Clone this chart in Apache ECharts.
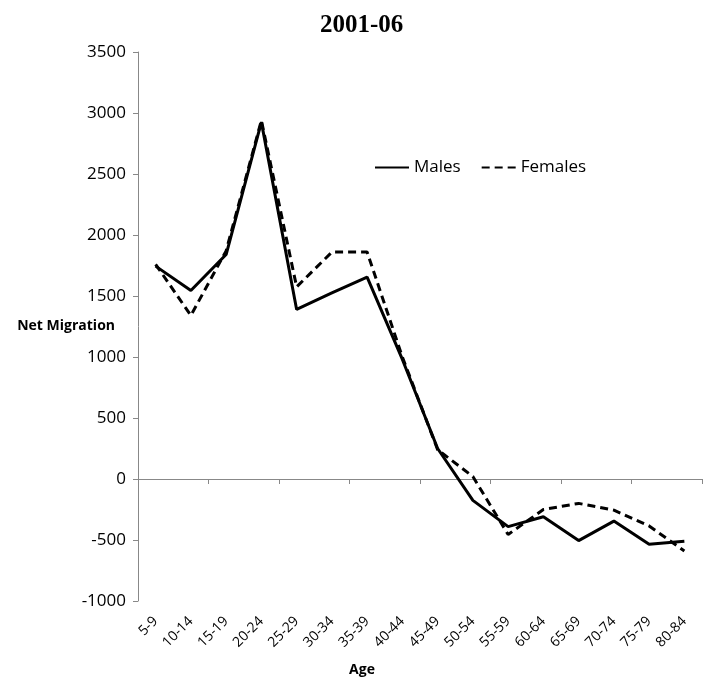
<!DOCTYPE html>
<html>
<head>
<meta charset="utf-8">
<script src="https://cdn.jsdelivr.net/npm/echarts@6/dist/echarts.min.js"></script>
<style>
  html, body { margin: 0; padding: 0; background: #fff; }
  #chart { width: 704px; height: 680px; }
</style>
</head>
<body>
<div id="chart"></div>
<script>
var ages = ['5-9', '10-14', '15-19', '20-24', '25-29', '30-34', '35-39', '40-44',
            '45-49', '50-54', '55-59', '60-64', '65-69', '70-74', '75-79', '80-84'];
var males = [1745, 1545, 1840, 2925, 1390, 1525, 1655, 980, 250, -175, -390, -310, -505, -345, -535, -510];
var females = [1760, 1340, 1870, 2940, 1575, 1860, 1860, 1000, 240, 20, -455, -250, -200, -255, -385, -590];
var yTicks = [-1000, 3500, 500]; // min, max, step

var font = 'Open Sans';
var chart = echarts.init(document.getElementById('chart'));

var option = {
    animation: false,
    title: {
        text: '2001-06',
        left: 315,
        top: 8,
        textStyle: { fontFamily: 'Liberation Serif', fontWeight: 'bold', fontSize: 25, color: '#000' }
    },
    legend: {
        left: 369,
        top: 154,
        itemWidth: 34,
        itemHeight: 14,
        itemGap: 20,
        itemStyle: { opacity: 0 },
        textStyle: { fontFamily: font, fontSize: 17, color: '#000' },
        data: ['Males', 'Females']
    },
    grid: { left: 138, right: 2, top: 52, bottom: 79, outerBoundsMode: 'none' },
    xAxis: [
        {
            // line on zero with ticks
            type: 'category',
            data: ages,
            position: 'bottom',
            axisLine: { onZero: true, lineStyle: { color: '#888', width: 1 } },
            axisTick: { show: true, length: 5, lineStyle: { color: '#888' } },
            axisLabel: { show: false },
            splitLine: { show: false }
        },
        {
            // labels at the bottom
            type: 'category',
            data: ages,
            position: 'bottom',
            axisLine: { show: false, onZero: false },
            axisTick: { show: false },
            axisLabel: { rotate: 45, margin: 18, interval: 0, fontFamily: font, fontSize: 14, color: '#000' },
            name: 'Age',
            nameLocation: 'middle',
            nameGap: 62,
            nameMoveOverlap: false,
            nameTextStyle: { fontFamily: font, fontWeight: 'bold', fontSize: 14, color: '#000', padding: [0, 116, 0, 0] }
        }
    ],
    yAxis: {
        type: 'value',
        min: yTicks[0],
        max: yTicks[1],
        interval: yTicks[2],
        axisLine: { show: true, lineStyle: { color: '#888', width: 1 } },
        axisTick: { show: true, length: 5, lineStyle: { color: '#888' } },
        axisLabel: {
            fontFamily: font, fontSize: 17, color: '#000', margin: 12,
            formatter: function (v) { return String(v); }
        },
        splitLine: { show: false },
        name: 'Net Migration',
        nameLocation: 'middle',
        nameRotate: 0,
        nameGap: 23,
        nameMoveOverlap: false,
        nameTextStyle: { fontFamily: font, fontWeight: 'bold', fontSize: 14, color: '#000' }
    },
    series: [
        {
            name: 'Males',
            type: 'line',
            xAxisIndex: 0,
            data: males,
            symbol: 'none',
            lineStyle: { color: '#000', width: 3, type: 'solid' },
            itemStyle: { color: '#000' }
        },
        {
            name: 'Females',
            type: 'line',
            xAxisIndex: 0,
            data: females,
            symbol: 'none',
            lineStyle: { color: '#000', width: 3, type: [8, 5] },
            itemStyle: { color: '#000' }
        }
    ]
};

chart.setOption(option);
window.addEventListener('resize', function () {
    chart.resize();
});
</script>
</body>
</html>
